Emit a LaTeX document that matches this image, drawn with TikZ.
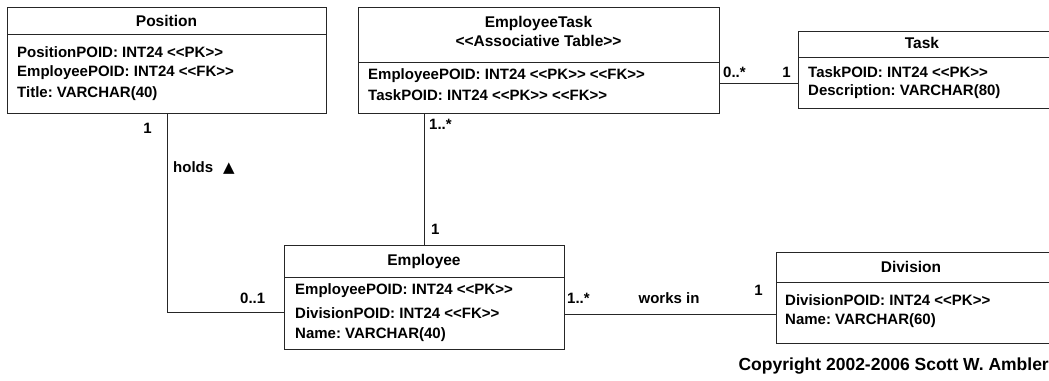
\documentclass[tikz,border=0pt]{standalone}
\usepackage{fontspec}
\setmainfont{Liberation Sans}[Ligatures=TeXOff]
\newfontfamily\symfont{DejaVu Sans}
\frenchspacing
\begin{document}
\begin{tikzpicture}[x=1pt,y=-1pt,
  tbl/.style={draw=black!85,line width=1pt,fill=white,inner sep=0pt,anchor=north west},
  sep/.style={draw=black!85,line width=1pt},
  link/.style={draw=black!85,line width=1pt},
  ttl/.style={inner sep=0pt,anchor=center,font=\fontsize{15.5}{18}\selectfont\bfseries},
  attr/.style={inner sep=0pt,anchor=west,font=\fontsize{15}{18}\selectfont\bfseries},
  mult/.style={inner sep=0pt,font=\fontsize{15}{18}\selectfont\bfseries}]
\useasboundingbox (0,0) rectangle (1049,380);
\clip (0,0) rectangle (1049,380);
\fill[white] (0,0) rectangle (1049,380);

% tables
\node[tbl,minimum width=319pt,minimum height=106pt] (pos) at (7,7) {};
\node[tbl,minimum width=361pt,minimum height=106pt] (et) at (358,7) {};
\node[tbl,minimum width=260pt,minimum height=77pt] (task) at (798,31) {};
\node[tbl,minimum width=280pt,minimum height=104pt] (emp) at (284,245) {};
\node[tbl,minimum width=280pt,minimum height=91pt] (div) at (776,252) {};

% header separators
\draw[sep] (pos.west |- 0,34) -- (pos.east |- 0,34);
\draw[sep] (et.west |- 0,62) -- (et.east |- 0,62);
\draw[sep] (task.west |- 0,57) -- (task.east |- 0,57);
\draw[sep] (emp.west |- 0,277) -- (emp.east |- 0,277);
\draw[sep] (div.west |- 0,282) -- (div.east |- 0,282);

% Position
\node[ttl] (posT) at (166.5,21) {Position};
\node[attr] (posA) at (17,52) {PositionPOID: INT24 <<PK>>};
\node[attr] (posB) at (17,73) {EmployeePOID: INT24 <<FK>>};
\node[attr] (posC) at (17,94) {Title: VARCHAR(40)};

% EmployeeTask
\node[ttl] (etT) at (538.5,23) {EmployeeTask};
\node[ttl] (etS) at (538.5,41) {<<Associative Table>>};
\node[attr] (etA) at (368,76) {EmployeePOID: INT24 <<PK>> <<FK>>};
\node[attr] (etB) at (368,95) {TaskPOID: INT24 <<PK>> <<FK>>};

% Task
\node[ttl] (taskT) at (922,43) {Task};
\node[attr] (taskA) at (808,72) {TaskPOID: INT24 <<PK>>};
\node[attr] (taskB) at (808,92) {Description: VARCHAR(80)};

% Employee
\node[ttl] (empT) at (424,261) {Employee};
\node[attr] (empA) at (295,291) {EmployeePOID: INT24 <<PK>>};
\node[attr] (empB) at (295,313) {DivisionPOID: INT24 <<FK>>};
\node[attr] (empC) at (295,335) {Name: VARCHAR(40)};

% Division
\node[ttl] (divT) at (911,267) {Division};
\node[attr] (divA) at (785,300) {DivisionPOID: INT24 <<PK>>};
\node[attr] (divB) at (785,321) {Name: VARCHAR(60)};

% associations
\draw[link] (pos.south) |- (emp.west |- 0,312);
\draw[link] (emp.north) -- (emp.north |- et.south);
\draw[link] (et.east |- 0,83) -- (task.west |- 0,83);
\draw[link] (emp.east |- 0,314) -- (div.west |- 0,314);

% multiplicities and role names
\node[mult,anchor=east] (m1) at (152,128) {1};
\node[mult,anchor=west] (holds) at (173,168) {holds\hspace{10pt}{\symfont ▲}};
\node[mult,anchor=west] (m2) at (240,298) {0..1};
\node[mult,anchor=west] (m3) at (429,124) {1..*};
\node[mult,anchor=west] (m4) at (431,229) {1};
\node[mult,anchor=west] (m5) at (723,72) {0..*};
\node[mult,anchor=east] (m6) at (791,72) {1};
\node[mult,anchor=west] (m7) at (567,298) {1..*};
\node[mult] (works) at (669,298) {works in};
\node[mult,anchor=east] (m8) at (763,290) {1};

% copyright line
\node[inner sep=0pt,anchor=east,font=\fontsize{17.5}{20}\selectfont\bfseries] (copy) at (1049,366) {Copyright 2002-2006 Scott W. Ambler};
\end{tikzpicture}
\end{document}
